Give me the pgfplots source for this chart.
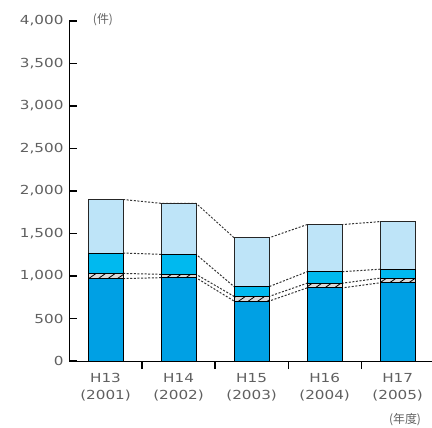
\documentclass[border=0pt]{standalone}
\usepackage{pgfplots}
\pgfplotsset{compat=1.18}
\usetikzlibrary{patterns.meta}
\usepackage{fontspec}
\setmainfont{DejaVu Sans}
\newfontfamily\tickfont[FakeStretch=1.22]{DejaVu Sans}
\newfontfamily\cjk{Noto Sans CJK JP}

\definecolor{cdark}{HTML}{00A0E4}
\definecolor{cmid}{HTML}{00B9EF}
\definecolor{clight}{HTML}{BEE4F8}
\definecolor{chatch}{HTML}{D9D9D9}
\definecolor{tickgray}{HTML}{606060}

% cumulative heights: total, top of cyan, top of hatched, top of dark
\pgfplotstableread{
x   total  mid   hatch bottom
0.5 1900   1270  1030  970
1.5 1855   1255  1020  980
2.5 1450   875   760   705
3.5 1605   1050  915   860
4.5 1640   1080  975   920
}\data

\begin{document}
\begin{tikzpicture}
\begin{axis}[
  at={(0,0)}, anchor=south west,
  scale only axis,
  width=363bp, height=340bp,
  xmin=0, xmax=4.97,
  ymin=0, ymax=4000,
  axis x line*=bottom, axis y line*=left,
  axis line style={black, line width=1bp},
  ytick={0,500,...,4000},
  yticklabel style={font=\tickfont\fontsize{12.5}{15}\selectfont, text=tickgray, xshift=-2bp},
  /pgf/number format/assume math mode=true,
  /pgf/number format/1000 sep={,},
  xtick={1,2,3,4},
  xticklabels={},
  extra x ticks={0.5,1.5,2.5,3.5,4.5},
  extra x tick labels={{H13\\(2001)},{H14\\(2002)},{H15\\(2003)},{H16\\(2004)},{H17\\(2005)}},
  extra x tick style={major tick length=0pt},
  xticklabel style={align=center, font=\tickfont\fontsize{12.5}{16.5}\selectfont, text=tickgray, yshift=-9bp},
  major tick length=8bp,
  tick style={black, line width=1.2bp},
  tick align=inside,
  clip=false,
  ybar, bar width=35bp, bar shift=0pt,
]
% connecting dashed lines (drawn first, bars cover the flat parts)
\addplot[sharp plot, black!80, line width=1bp, dash pattern=on 2bp off 1.6bp]
  coordinates {(0.74,1900) (1.26,1855) (1.74,1855) (2.26,1450) (2.74,1450) (3.26,1605) (3.74,1605) (4.26,1640)};
\addplot[sharp plot, black!80, line width=1bp, dash pattern=on 2bp off 1.6bp]
  coordinates {(0.74,1270) (1.26,1255) (1.74,1255) (2.26,875) (2.74,875) (3.26,1050) (3.74,1050) (4.26,1080)};
\addplot[sharp plot, black!80, line width=1bp, dash pattern=on 2bp off 1.6bp]
  coordinates {(0.74,1030) (1.26,1020) (1.74,1020) (2.26,760) (2.74,760) (3.26,915) (3.74,915) (4.26,975)};
\addplot[sharp plot, black!80, line width=1bp, dash pattern=on 2bp off 1.6bp]
  coordinates {(0.74,970) (1.26,980) (1.74,980) (2.26,705) (2.74,705) (3.26,860) (3.74,860) (4.26,920)};
% bars, drawn from the highest layer down
\addplot[fill=clight, draw=black!85, line width=0.9bp] table[x=x, y=total] {\data};
\addplot[fill=cmid, draw=black, line width=0.9bp] table[x=x, y=mid] {\data};
\addplot[fill=chatch, draw=black, line width=0.9bp,
  postaction={pattern={Lines[angle=35, distance=5.5bp, line width=0.8bp]}, pattern color=black}]
  table[x=x, y=hatch] {\data};
\addplot[fill=cdark, draw=black, line width=0.9bp] table[x=x, y=bottom] {\data};
\end{axis}
\node[text=tickgray, font=\cjk\fontsize{12}{14}\selectfont] at (34bp,341bp) {(件)};
\node[text=tickgray, font=\cjk\fontsize{12}{14}\selectfont] at (336bp,-59bp) {(年度)};
\pgfresetboundingbox
\path[use as bounding box] (-69bp,-67bp) rectangle (363bp,361bp);
\end{tikzpicture}
\end{document}
